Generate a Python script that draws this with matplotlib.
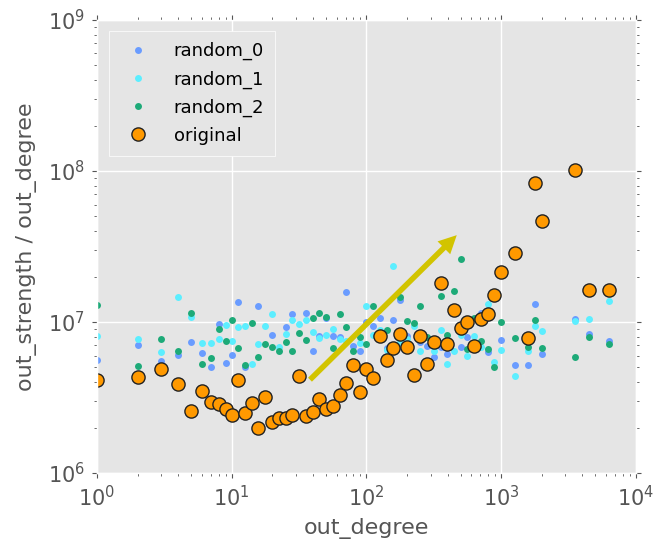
import matplotlib
matplotlib.use('Agg')
import matplotlib.pyplot as plt

# ---- data (y values in units of 1e6) ----
x_r0 = [1, 2, 3, 4, 5, 6, 7, 8, 9, 10, 11.2, 12.6, 15.8, 20.0, 25.1, 28.2, 35.5, 39.8,
        44.7, 50.1, 56.2, 63.1, 70.8, 79.4, 89.1, 100, 112, 126, 141, 158, 178, 200,
        251, 282, 316, 355, 398, 501, 562, 708, 794, 1000, 1259, 1585, 1778, 1995,
        3548, 4467, 6310]
y_r0 = [5.64, 7.05, 5.56, 6.09, 7.42, 6.21, 5.05, 9.64, 5.37, 6.09, 13.6, 5.05, 12.86,
        8.16, 9.31, 11.34, 11.46, 6.40, 8.12, 10.63, 8.12, 7.91, 15.7, 6.98, 6.47, 10.0,
        9.41, 10.63, 6.74, 10.31, 14.03, 8.06, 7.34, 6.98, 5.91, 6.88, 6.11, 6.88, 7.94,
        11.43, 6.37, 7.64, 5.18, 5.18, 13.26, 6.18, 10.5, 8.28, 7.53]

x_r1 = [1, 2, 3, 4, 5, 6, 7, 8, 9, 10, 11.2, 12.6, 14.1, 15.8, 17.8, 20.0, 22.4, 25.1,
        28.2, 31.6, 35.5, 39.8, 44.7, 50.1, 56.2, 63.1, 70.8, 89.1, 100, 112, 126, 141,
        158, 178, 200, 224, 251, 316, 355, 398, 447, 501, 562, 631, 708, 794, 891, 1000,
        1259, 1585, 1778, 1995, 3548, 4467, 6310]
y_r1 = [8.04, 7.73, 6.30, 14.7, 10.72, 7.30, 7.30, 7.68, 9.60, 7.49, 9.31, 9.35, 5.29,
        7.12, 9.45, 11.22, 6.88, 8.28, 10.25, 9.74, 10.35, 8.59, 7.88, 8.21, 8.99, 7.76,
        7.49, 7.27, 12.67, 8.16, 8.86, 6.54, 23.5, 7.34, 7.76, 9.45, 6.40, 6.47, 8.86,
        5.27, 6.47, 8.21, 6.00, 8.12, 6.88, 13.1, 5.42, 6.57, 4.41, 6.47, 9.41, 8.73,
        10.2, 10.4, 13.8]

x_r2 = [1, 2, 3, 4, 5, 6, 7, 8, 9, 10, 11.2, 12.6, 14.1, 15.8, 17.8, 20.0, 22.4, 25.1,
        28.2, 31.6, 35.5, 39.8, 44.7, 50.1, 56.2, 63.1, 70.8, 79.4, 89.1, 100, 112, 141,
        178, 200, 224, 251, 282, 355, 398, 447, 501, 562, 631, 708, 794, 891, 1000, 1259,
        1585, 1778, 1995, 3548, 4467, 6310]
y_r2 = [13.0, 5.10, 7.73, 6.40, 11.46, 5.31, 5.82, 8.94, 7.49, 10.25, 6.77, 5.23, 9.85,
        5.84, 7.19, 6.80, 6.47, 7.34, 6.40, 8.46, 7.64, 10.63, 11.46, 10.77, 6.70, 11.22,
        9.23, 6.40, 7.91, 7.19, 12.86, 8.86, 14.7, 10.09, 9.79, 12.75, 7.91, 14.97, 8.21,
        15.96, 26.0, 6.64, 10.6, 7.53, 6.62, 5.04, 10.0, 7.82, 6.88, 10.35, 6.70, 5.84,
        7.91, 7.19]

x_orig = [1, 2, 3, 4, 5, 6, 7, 8, 9, 10, 11.2, 12.6, 14.1, 15.8, 17.8, 20.0, 22.4, 25.1,
          28.2, 31.6, 35.5, 39.8, 44.7, 50.1, 56.2, 63.1, 70.8, 79.4, 89.1, 100, 112, 126,
          141, 158, 178, 200, 224, 251, 282, 316, 355, 398, 447, 501, 562, 631, 708, 794,
          891, 1000, 1259, 1585, 1778, 1995, 3548, 4467, 6310]
y_orig = [4.15, 4.34, 4.87, 3.90, 2.56, 3.49, 2.94, 2.85, 2.67, 2.44, 4.10, 2.48, 2.91,
          1.98, 3.20, 2.18, 2.33, 2.33, 2.41, 4.38, 2.40, 2.54, 3.11, 2.64, 2.78, 3.27,
          3.94, 5.17, 3.42, 4.85, 4.27, 8.04, 5.58, 6.74, 8.34, 6.80, 4.43, 8.12, 5.29,
          7.41, 18.2, 7.16, 12.1, 9.13, 10.0, 6.90, 10.5, 11.3, 15.2, 21.6, 28.8, 7.85,
          83.7, 47.0, 101, 16.3, 16.3]

arrow_tail = (38.1, 4.15e6)
arrow_head = (468, 3.76e7)

labels = ['random_0', 'random_1', 'random_2', 'original']
colors = ['#6a9cff', '#5ceeff', '#1daa78', '#ff9900']

plt.style.use('ggplot')
plt.rcParams['font.family'] = ['DejaVu Sans']

fig = plt.figure(figsize=(6.67, 5.4), dpi=100)
ax = fig.add_axes([0.1454, 0.124, 0.808, 0.839])

M = 1e6
for xs, ys, c, lab in [(x_r0, y_r0, colors[0], labels[0]),
                       (x_r1, y_r1, colors[1], labels[1]),
                       (x_r2, y_r2, colors[2], labels[2])]:
    ax.plot(xs, [v * M for v in ys], 'o', color=c, ms=5, mec='none',
            linestyle='none', label=lab)
ax.plot(x_orig, [v * M for v in y_orig], 'o', color=colors[3], ms=9.5, mec='#222222',
        mew=1.0, linestyle='none', label=labels[3])

ax.annotate('', xy=arrow_head, xytext=arrow_tail,
            arrowprops=dict(facecolor='#d2c400', edgecolor='none', width=4,
                            headwidth=13, headlength=13, shrink=0))

ax.set_xscale('log')
ax.set_yscale('log')
ax.set_xlim(1, 1e4)
ax.set_ylim(1e6, 1e9)
ax.grid(True, which='major', color='white', linewidth=1)
ax.grid(False, which='minor')
ax.tick_params(which='both', direction='out', top=True, right=True, colors='#555555',
               labelsize=15, pad=5)
ax.set_xlabel('out_degree', fontsize=16, color='#555555', labelpad=6)
ax.set_ylabel('out_strength / out_degree', fontsize=16, color='#555555', labelpad=8)

leg = ax.legend(loc='upper left', numpoints=1, fontsize=13, fancybox=False,
                framealpha=1, borderpad=0.6, labelspacing=0.55, handletextpad=1.0,
                bbox_to_anchor=(0.005, 0.995))
leg.get_frame().set_facecolor('#e5e5e5')
leg.get_frame().set_edgecolor('white')
for t in leg.get_texts():
    t.set_color('black')

fig.savefig('out.png', dpi=100)
